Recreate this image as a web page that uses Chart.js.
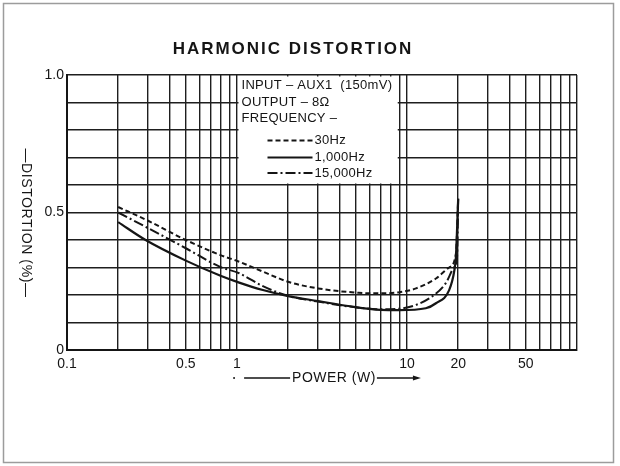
<!DOCTYPE html>
<html>
<head>
<meta charset="utf-8">
<script src="https://cdn.jsdelivr.net/npm/chart.js@4.4.0/dist/chart.umd.min.js"></script>
<style>
  html, body { margin: 0; padding: 0; background: #fff; }
  #wrap { width: 620px; height: 466px; }
</style>
</head>
<body>
<div id="wrap"><canvas id="myChart" width="620" height="466"></canvas></div>
<script>
// Harmonic distortion vs output power

const power30 = [0.2, 0.3, 0.5, 0.8, 1.03, 1.42, 2, 3, 5.2, 7, 9, 11.3, 14.8, 17.7, 19.4, 20];
const dist30 = [0.52, 0.47, 0.40, 0.345, 0.321, 0.285, 0.248, 0.224, 0.208, 0.206, 0.21, 0.224, 0.26, 0.30, 0.35, 0.55];

const power1k = [0.2, 0.29, 0.5, 0.8, 1.03, 1.42, 2, 3, 4.5, 7, 9, 12.9, 14.8, 17.7, 19, 19.4, 20];
const dist1k = [0.465, 0.40, 0.325, 0.27, 0.245, 0.218, 0.196, 0.178, 0.16, 0.146, 0.145, 0.152, 0.17, 0.218, 0.29, 0.34, 0.55];

const power15k = [0.2, 0.29, 0.5, 0.79, 1.03, 1.42, 2, 3, 5, 7, 9, 11.3, 14, 16.9, 19, 19.7, 20];
const dist15k = [0.50, 0.448, 0.37, 0.303, 0.279, 0.232, 0.197, 0.176, 0.155, 0.148, 0.15, 0.164, 0.194, 0.243, 0.303, 0.34, 0.55];

const seriesLabels = ['30Hz', '1,000Hz', '15,000Hz'];
const xTickLabels = [0.1, 0.5, 1, 10, 20, 50];
const yTickLabels = ['0', '0.5', '1.0'];
const infoLines = ['INPUT – AUX1  (150mV)', 'OUTPUT – 8Ω', 'FREQUENCY –'];

const ink = '#151515';
const font = "'Liberation Sans', Arial, sans-serif";

// grid lines at 1..9 of every decade, 0.1 to 100
const xGrid = [];
[0.1, 1, 10].forEach(d => {
    for (let m = 1; m < 10; m++) xGrid.push(+(d * m).toPrecision(3));
});
xGrid.push(100);

function pts(xs, ys) {
    return xs.map((x, i) => ({x: x, y: ys[i]}));
}

const near = (a, b) => Math.abs(a - b) < 1e-6;

const decor = {
    id: 'decor',
    beforeDraw(chart) {
        const ctx = chart.ctx;
        ctx.save();
        ctx.fillStyle = '#fff';
        ctx.fillRect(0, 0, chart.width, chart.height);
        ctx.strokeStyle = '#9c9c9c';
        ctx.lineWidth = 1.5;
        ctx.strokeRect(3.5, 3.5, 610, 459);
        ctx.restore();
    },
    beforeDatasetsDraw(chart) {
        const ctx = chart.ctx;
        const xs = chart.scales.x, ys = chart.scales.y;
        const l = xs.getPixelForValue(1) + 1.5;
        const r = xs.getPixelForValue(9) - 1.5;
        const t = chart.chartArea.top + 1.5;
        const b = ys.getPixelForValue(0.6) - 1.5;
        ctx.save();
        ctx.fillStyle = '#fff';
        ctx.fillRect(l, t, r - l, b - t);
        ctx.restore();
    },
    afterDatasetsDraw(chart) {
        const ctx = chart.ctx;
        const area = chart.chartArea;
        const xs = chart.scales.x;
        const l = xs.getPixelForValue(1) + 1.5;
        const t = area.top;
        ctx.save();
        ctx.fillStyle = ink;
        ctx.textBaseline = 'middle';

        // legend box text
        ctx.font = '13px ' + font;
        ctx.letterSpacing = '0.3px';
        ctx.textAlign = 'left';
        const infoY = [10, 27.5, 43];
        infoLines.forEach((s, i) => ctx.fillText(s, l + 3, t + infoY[i]));
        const serY = [65.5, 82.5, 98];
        chart.data.datasets.forEach((ds, i) => {
            const y = t + serY[i];
            ctx.save();
            ctx.strokeStyle = ink;
            ctx.lineWidth = 1.8;
            ctx.setLineDash(ds.borderDash || []);
            ctx.beginPath();
            ctx.moveTo(l + 29, y);
            ctx.lineTo(l + 74, y);
            ctx.stroke();
            ctx.restore();
            ctx.fillText(ds.label, l + 76, y);
        });

        // title
        ctx.font = 'bold 17px ' + font;
        ctx.letterSpacing = '2px';
        ctx.textAlign = 'center';
        ctx.fillText('HARMONIC DISTORTION', 293, 49);

        // x axis title with arrow
        ctx.font = '14px ' + font;
        ctx.letterSpacing = '0.5px';
        const xt = 'POWER (W)';
        const w = ctx.measureText(xt).width;
        const cx = 334, cy = 378;
        ctx.fillText(xt, cx, cy);
        const tl = cx - w / 2, tr = cx + w / 2;
        ctx.strokeStyle = ink;
        ctx.lineWidth = 1.5;
        ctx.beginPath();
        ctx.moveTo(tl - 48, cy);
        ctx.lineTo(tl - 2, cy);
        ctx.moveTo(tr + 1, cy);
        ctx.lineTo(tr + 40, cy);
        ctx.stroke();
        ctx.beginPath();
        ctx.arc(tl - 58, cy, 1, 0, Math.PI * 2);
        ctx.fill();
        ctx.beginPath();
        ctx.moveTo(tr + 45, cy);
        ctx.lineTo(tr + 37, cy - 2.5);
        ctx.lineTo(tr + 37, cy + 2.5);
        ctx.closePath();
        ctx.fill();

        // y axis title, reads top to bottom
        ctx.save();
        ctx.translate(26, 223);
        ctx.rotate(Math.PI / 2);
        ctx.font = '14px ' + font;
        ctx.letterSpacing = '0.6px';
        ctx.fillText('—DISTORTION (%)—', 0, 0);
        ctx.restore();

        ctx.restore();
    }
};

const ctx = document.getElementById('myChart').getContext('2d');
const myChart = new Chart(ctx, {
    type: 'line',
    data: {
        datasets: [{
            label: seriesLabels[0],
            data: pts(power30, dist30),
            borderColor: ink,
            borderWidth: 2,
            borderDash: [5, 3]
        }, {
            label: seriesLabels[1],
            data: pts(power1k, dist1k),
            borderColor: ink,
            borderWidth: 2.2
        }, {
            label: seriesLabels[2],
            data: pts(power15k, dist15k),
            borderColor: ink,
            borderWidth: 2,
            borderDash: [10, 3, 2, 3]
        }]
    },
    options: {
        responsive: false,
        animation: false,
        events: [],
        layout: {padding: {left: 0, right: 43, top: 75, bottom: 0}},
        elements: {
            point: {radius: 0},
            line: {fill: false, cubicInterpolationMode: 'monotone'}
        },
        plugins: {
            legend: {display: false},
            title: {display: false},
            tooltip: {enabled: false}
        },
        scales: {
            x: {
                type: 'logarithmic',
                min: 0.1,
                max: 100,
                afterBuildTicks: s => { s.ticks = xGrid.map(v => ({value: v})); },
                afterFit: s => { s.height = 116; },
                grid: {color: '#1e1e1e', lineWidth: 1.4, drawTicks: false},
                border: {color: ink, width: 2},
                ticks: {
                    autoSkip: false,
                    maxRotation: 0,
                    padding: 6,
                    color: ink,
                    font: {family: font, size: 14},
                    callback: v => {
                        const hit = xTickLabels.find(t => near(t, v));
                        return hit === undefined ? '' : String(hit);
                    }
                }
            },
            y: {
                min: 0,
                max: 1,
                afterFit: s => { s.width = 67; },
                grid: {color: '#1e1e1e', lineWidth: 1.4, drawTicks: false},
                border: {color: ink, width: 2},
                ticks: {
                    stepSize: 0.1,
                    padding: 3,
                    color: ink,
                    font: {family: font, size: 14},
                    callback: v => near(v, 0) ? yTickLabels[0] : near(v, 0.5) ? yTickLabels[1] : near(v, 1) ? yTickLabels[2] : ''
                }
            }
        }
    },
    plugins: [decor]
});
</script>
</body>
</html>
